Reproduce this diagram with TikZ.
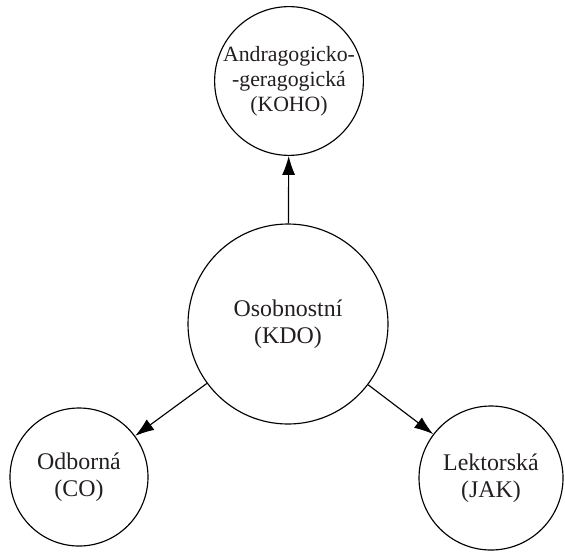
\documentclass[tikz,border=0pt]{standalone}
\usepackage{fontspec}
\setmainfont{Liberation Serif}
\usepackage{tikz}
\usepackage{xcolor}
\usetikzlibrary{arrows.meta,positioning}
\definecolor{textdark}{RGB}{35,31,32}

\begin{document}
\begin{tikzpicture}[x=1cm,y=1cm,
  kruh/.style={draw,circle,line width=0.65pt,align=center,inner sep=0pt,text=textdark,font=\fontsize{13.6}{15.4}\selectfont},
  sipka/.style={-{Latex[length=0.38cm,width=0.26cm]},line width=0.65pt}]
\useasboundingbox (0,0) rectangle (11.3,11.02);
\node[kruh,minimum size=4cm] (kdo) at (5.76,4.54) {Osobnostní\\(KDO)};
\node[kruh,minimum size=2.9cm,font=\fontsize{12.4}{14.2}\selectfont] (koho) at (5.78,9.4) {Andragogicko-\\-geragogická\\(KOHO)};
\node[kruh,minimum size=2.76cm] (co) at (1.58,1.48) {Odborná\\(CO)};
\node[kruh,minimum size=2.88cm] (jak) at (9.82,1.46) {Lektorská\\(JAK)};
\draw[sipka] (kdo) -- (koho);
\draw[sipka] (kdo) -- (co);
\draw[sipka] (kdo) -- (jak);
\end{tikzpicture}
\end{document}
